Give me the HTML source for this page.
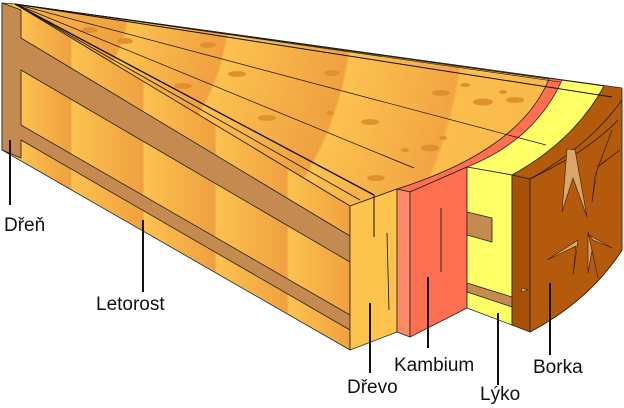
<!DOCTYPE html>
<html><head><meta charset="utf-8"><style>
html,body{margin:0;padding:0;background:#fff;}
svg{display:block}
text{font-family:"Liberation Sans",sans-serif;font-size:19px;fill:#111}
</style></head><body>
<svg width="624" height="408" viewBox="0 0 624 408" xmlns="http://www.w3.org/2000/svg">
<defs>
<linearGradient id="side" x1="0" y1="0" x2="352" y2="0" gradientUnits="userSpaceOnUse">
<stop offset="0.06" stop-color="#fcc24f"/><stop offset="0.20" stop-color="#f0a040"/>
<stop offset="0.205" stop-color="#fcc24f"/><stop offset="0.405" stop-color="#f0a040"/>
<stop offset="0.41" stop-color="#fcc24f"/><stop offset="0.61" stop-color="#f0a040"/>
<stop offset="0.615" stop-color="#fcc24f"/><stop offset="0.815" stop-color="#f0a040"/>
<stop offset="0.82" stop-color="#fcc24f"/><stop offset="1" stop-color="#f0a040"/>
</linearGradient>
<radialGradient id="top" cx="15" cy="4" r="560" gradientUnits="userSpaceOnUse">
<stop offset="0.05" stop-color="#f5b048"/><stop offset="0.2" stop-color="#f0a040"/>
<stop offset="0.205" stop-color="#fcc24f"/><stop offset="0.38" stop-color="#f0a040"/>
<stop offset="0.385" stop-color="#fcc24f"/><stop offset="0.6" stop-color="#f0a040"/>
<stop offset="0.605" stop-color="#fcc24f"/><stop offset="0.8" stop-color="#f2a542"/>
<stop offset="0.805" stop-color="#fbbd4c"/><stop offset="1" stop-color="#f8b84c"/>
</radialGradient>
</defs>
<g stroke="#222" stroke-width="0.8" stroke-linejoin="round">
<path d="M15,4 L622,88 L622,250 Q590,300 530,332 L530,179 L512,175 Z" fill="#b35a0c"/>
<path d="M15,4 L604,86 Q575,140 512,175 L467,167 Z" fill="#ffff66"/>
<path d="M15,4 L562,80 Q535,140 467,167 L410,192 L397,189 Z" fill="#ff7050"/>
<path d="M15,4 L549,79 Q520,150 397,189 L350,206 Z" fill="url(#top)"/>
<path d="M2,3 L15,4 L350,206 L350,350 L2,150 Z" fill="url(#side)"/>
<path d="M2,3 L21,10 L21,38 L350,236 L350,262 L21,70 L21,125 L350,315 L350,330 L21,140 L21,158 L2,150 Z" fill="#c48a50"/>
<path d="M350,206 L397,189 L397,332 L350,350 Z" fill="#fcc44c"/>
<path d="M397,189 L410,192 L410,337 L397,332 Z" fill="#ff8a66"/>
<path d="M410,192 L467,167 L467,308 L410,337 Z" fill="#ff7050"/>
<path d="M467,167 L512,175 L512,325 L467,308 Z" fill="#ffff66"/>
<path d="M467,212 L492,218 L492,242 L467,235 Z" fill="#c48a50"/>
<path d="M467,283 L512,297 L512,307 L467,292 Z" fill="#c48a50"/>
<path d="M512,175 L530,179 L530,332 L512,325 Z" fill="#a65008"/>
<path d="M530,179 Q590,145 622,100 L622,250 Q590,300 530,332 Z" fill="#b35a0c"/>
</g>
<!-- dots on top -->
<g fill="#e0902f">
<ellipse cx="90" cy="30" rx="8" ry="3"/><ellipse cx="125" cy="41" rx="8" ry="3"/>
<ellipse cx="208" cy="45" rx="8" ry="3"/><ellipse cx="183" cy="86" rx="9" ry="3"/>
<ellipse cx="237" cy="74" rx="9" ry="3"/><ellipse cx="267" cy="118" rx="9" ry="3"/>
<ellipse cx="332" cy="73" rx="8" ry="3"/><ellipse cx="370" cy="122" rx="9" ry="3"/>
<ellipse cx="441" cy="93" rx="9" ry="3"/><ellipse cx="483" cy="102" rx="10" ry="3.5"/>
<ellipse cx="515" cy="100" rx="9" ry="3"/><ellipse cx="430" cy="148" rx="9" ry="3.5"/>
<ellipse cx="376" cy="178" rx="9" ry="3"/><ellipse cx="465" cy="85" rx="5" ry="2"/>
<ellipse cx="503" cy="92" rx="4" ry="2"/><ellipse cx="405" cy="150" rx="4" ry="2"/>
<ellipse cx="443" cy="138" rx="4" ry="2"/><ellipse cx="330" cy="113" rx="4" ry="2"/>
</g>
<g stroke="#111" fill="none">
<path d="M15,4 L374,195" stroke-width="1.3"/>
<path d="M15,4 L360,200" stroke-width="0.8"/>
<path d="M15,4 L414,168" stroke-width="0.7"/>
<path d="M15,4 L546,145" stroke-width="0.7"/>
<path d="M15,4 L612,97" stroke-width="1"/>
<path d="M15,4 L560,82" stroke-width="0.6"/>
<path d="M374,195 L374,237" stroke-width="1"/>
<path d="M387,233 L389,310" stroke-width="0.8"/>
<path d="M441,208 L441,272" stroke-width="0.8"/>
<path d="M530,179 Q590,150 618,120" stroke-width="0.7"/>
</g>
<g fill="#d9a56a" stroke="#3a1a00" stroke-width="0.6">
<path d="M567,149 L575,150 L587,217 L573,178 L562,212 Z"/>
<path d="M612,130 L597,170 L592,202 L595,176 Z"/>
<path d="M620,150 L597,167 L603,163 Z"/>
<path d="M578,240 L547,260 L576,246 L573,275 Z"/>
<path d="M588,232 L598,278 L592,250 L588,273 Z"/>
<path d="M589,235 L612,248 L593,240 Z"/>
<path d="M521,292 L528,290 L522,288 Z"/>
</g>
<g stroke="#111" stroke-width="2">
<line x1="10" y1="140" x2="10" y2="205"/>
<line x1="143" y1="220" x2="143" y2="292"/>
<line x1="370" y1="303" x2="370" y2="373"/>
<line x1="428" y1="277" x2="428" y2="348"/>
<line x1="498" y1="313" x2="498" y2="385"/>
<line x1="550" y1="283" x2="550" y2="355"/>
</g>
<text x="4" y="231">Dřeň</text>
<text x="96" y="310">Letorost</text>
<text x="347" y="393">Dřevo</text>
<text x="394" y="371">Kambium</text>
<text x="480" y="400">Lýko</text>
<text x="533" y="373">Borka</text>
</svg>
</body></html>
